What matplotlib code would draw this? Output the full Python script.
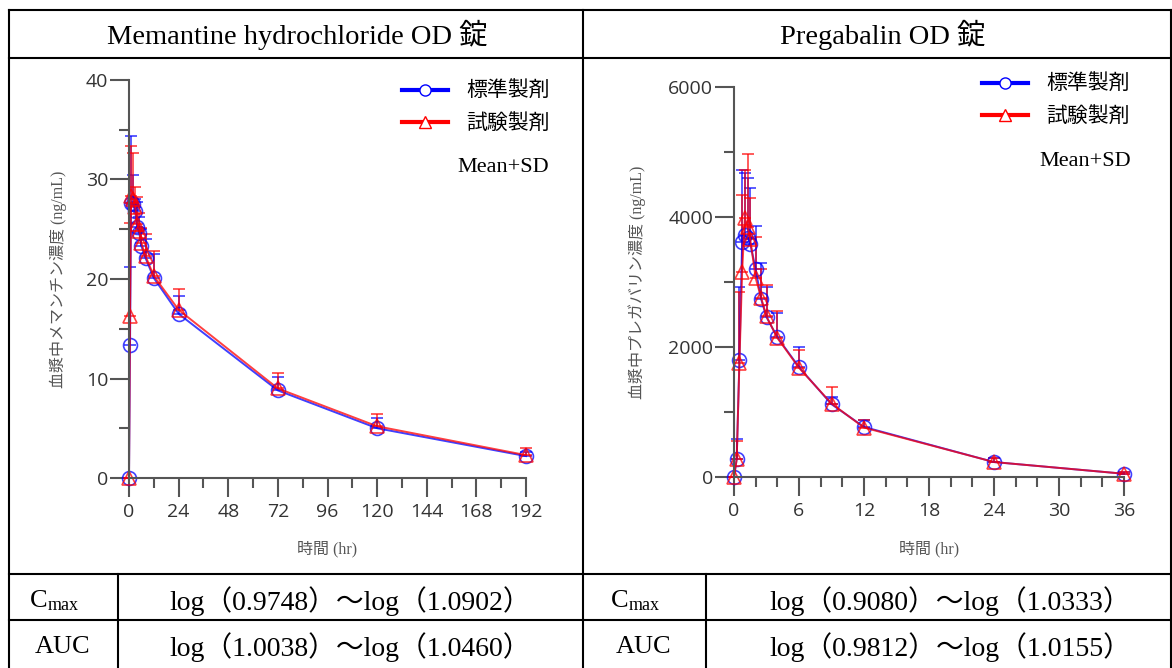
import matplotlib
matplotlib.use('Agg')
import matplotlib.pyplot as plt
from matplotlib.lines import Line2D
from matplotlib.ticker import MultipleLocator
import numpy as np

plt.rcParams['font.family'] = ['Liberation Serif', 'Noto Sans CJK JP']

W, H = 1172, 668

# Memantine hydrochloride OD (mean, SD)
mem_time = [0, 0.5, 1, 2, 3, 4, 5, 6, 8, 12, 24, 72, 120, 192]
mem_ref = [0, 13.4, 27.6, 27.5, 26.8, 25.2, 24.6, 23.3, 22.1, 20.1, 16.5, 8.8, 5.0, 2.2]
mem_ref_sd = [0, 7.8, 6.8, 3.0, 1.2, 2.5, 1.6, 1.7, 1.9, 2.4, 1.8, 1.4, 1.0, 0.4]
mem_test = [0, 16.3, 28.3, 28.0, 27.2, 25.5, 24.8, 23.6, 22.3, 20.3, 16.9, 9.0, 5.2, 2.3]
mem_test_sd = [0, 9.3, 5.1, 4.7, 2.0, 2.7, 1.8, 1.5, 2.2, 2.5, 2.1, 1.6, 1.2, 0.7]

# Pregabalin OD (mean, SD)
pre_time = [0, 0.25, 0.5, 0.75, 1, 1.25, 1.5, 2, 2.5, 3, 4, 6, 9, 12, 24, 36]
pre_ref = [0, 280, 1800, 3620, 3720, 3680, 3590, 3200, 2740, 2460, 2150, 1690, 1120, 770, 230, 50]
pre_ref_sd = [0, 300, 1120, 1100, 960, 920, 860, 660, 560, 460, 370, 310, 110, 110, 60, 20]
pre_test = [0, 270, 1760, 3150, 3980, 3850, 3660, 3060, 2760, 2470, 2140, 1680, 1130, 760, 230, 50]
pre_test_sd = [0, 280, 1090, 1190, 740, 1120, 640, 640, 440, 480, 410, 270, 250, 110, 70, 30]

titles = ['Memantine hydrochloride OD 錠', 'Pregabalin OD 錠']
ylabels = ['血漿中メマンチン濃度 (ng/mL)', '血漿中プレガバリン濃度 (ng/mL)']
xlabel = '時間 (hr)'
legend_labels = ['標準製剤', '試験製剤']
row_names = ['C', 'AUC']
ci_text = [['log（0.9748）～log（1.0902）', 'log（1.0038）～log（1.0460）'],
           ['log（0.9080）～log（1.0333）', 'log（0.9812）～log（1.0155）']]


def fx(x):
    return x / W


def fy(y):
    return 1 - y / H


fig = plt.figure(figsize=(W / 100, H / 100), dpi=100)

# table grid
def hline(y, x0, x1):
    fig.add_artist(Line2D([fx(x0), fx(x1)], [fy(y), fy(y)], color='black', lw=1.5))


def vline(x, y0, y1):
    fig.add_artist(Line2D([fx(x), fx(x)], [fy(y0), fy(y1)], color='black', lw=1.5))


hline(10, 9, 1171)
hline(58, 9, 1171)
hline(574, 9, 1171)
hline(620, 9, 1171)
vline(9, 10, 668)
vline(1170.5, 10, 668)
vline(583, 10, 668)
vline(118, 574, 668)
vline(706, 574, 668)

fig.text(fx(297), fy(35), titles[0], ha='center', va='center', fontsize=20.5)
fig.text(fx(883), fy(35), titles[1], ha='center', va='center', fontsize=20.5)

row_y = [601, 647]
for col, (cx_name, cx_val) in enumerate([(63, 350), (644, 950)]):
    fig.text(fx(cx_name - 24), fy(row_y[0]), row_names[0], ha='center', va='center', fontsize=19)
    fig.text(fx(cx_name - 15), fy(row_y[0] + 5), 'max', ha='left', va='center', fontsize=13)
    fig.text(fx(cx_name), fy(row_y[1]), row_names[1], ha='center', va='center', fontsize=19)
    for r in range(2):
        fig.text(fx(cx_val), fy(row_y[r]), ci_text[col][r], ha='center', va='center', fontsize=20)

tick_font = {'family': 'Open Sans', 'size': 14}

panels = [
    dict(rect=[129, 80, 526, 478], t=mem_time, ref=mem_ref, ref_sd=mem_ref_sd,
         test=mem_test, test_sd=mem_test_sd, xmax=192, ymax=40, xmaj=24, xmin=12,
         ymaj=10, ymin=5, ylab_x=58, leg=(402, 80), msd=(549, 167)),
    dict(rect=[734, 87, 1124, 477], t=pre_time, ref=pre_ref, ref_sd=pre_ref_sd,
         test=pre_test, test_sd=pre_test_sd, xmax=36, ymax=6000, xmaj=6, xmin=2,
         ymaj=2000, ymin=1000, ylab_x=637, leg=(982, 73), msd=(1131, 161)),
]

for i, p in enumerate(panels):
    x0, y0, x1, y1 = p['rect']
    ax = fig.add_axes([fx(x0), fy(y1), fx(x1 - x0), (y1 - y0) / H])
    for mean, sd, color, marker in [(p['ref'], p['ref_sd'], '#0000ff', 'o'),
                                    (p['test'], p['test_sd'], '#ff0000', '^')]:
        lower = np.zeros(len(sd))
        eb = ax.errorbar(p['t'], mean, yerr=[lower, sd], fmt='-', marker=marker,
                         color=color, mfc='none', mec=color, ms=10, mew=1.2, lw=1.4,
                         elinewidth=1.2, capsize=4, capthick=1.2, alpha=0.75)
        artists = [eb.lines[0]] + list(eb.lines[1]) + list(eb.lines[2])
        for artist in artists:
            artist.set_clip_on(False)
    ax.set_xlim(0, p['xmax'])
    ax.set_ylim(0, p['ymax'])
    ax.xaxis.set_major_locator(MultipleLocator(p['xmaj']))
    ax.xaxis.set_minor_locator(MultipleLocator(p['xmin']))
    ax.yaxis.set_major_locator(MultipleLocator(p['ymaj']))
    ax.yaxis.set_minor_locator(MultipleLocator(p['ymin']))
    for s in ['top', 'right']:
        ax.spines[s].set_visible(False)
    for s in ['left', 'bottom']:
        ax.spines[s].set_color('#555555')
        ax.spines[s].set_linewidth(1.5)
    ax.tick_params(which='major', direction='out', length=14, width=1.5, color='#555555',
                   labelcolor='#333333')
    ax.tick_params(which='minor', direction='out', length=7, width=1.5, color='#555555')
    ax.tick_params(axis='y', pad=1)
    ax.tick_params(axis='x', pad=4)
    for lab in ax.get_xticklabels() + ax.get_yticklabels():
        lab.set_fontfamily(tick_font['family'])
        lab.set_fontsize(tick_font['size'])

    fig.text(fx(p['ylab_x']), fy((y0 + y1) / 2), ylabels[i], rotation=90, ha='center',
             va='center', fontsize=11.5, color='#555555')
    fig.text(fx((x0 + x1) / 2), fy(549), xlabel, ha='center', va='center', fontsize=11.5,
             color='#555555')

    handles = [Line2D([], [], color='#0000ff', lw=3, marker='o', mfc='white', mec='#0000ff', ms=8),
               Line2D([], [], color='#ff0000', lw=3, marker='^', mfc='white', mec='#ff0000', ms=8)]
    ax.legend(handles, legend_labels, loc='upper left',
              bbox_to_anchor=(fx(p['leg'][0]), fy(p['leg'][1])), bbox_transform=fig.transFigure,
              frameon=False, borderpad=0, borderaxespad=0, handlelength=2.2, handletextpad=0.9,
              labelspacing=0.5, prop={'family': 'Noto Sans CJK JP', 'size': 15})
    fig.text(fx(p['msd'][0]), fy(p['msd'][1]), 'Mean+SD', ha='right', va='center', fontsize=16)

fig.savefig('out.png', dpi=100)
